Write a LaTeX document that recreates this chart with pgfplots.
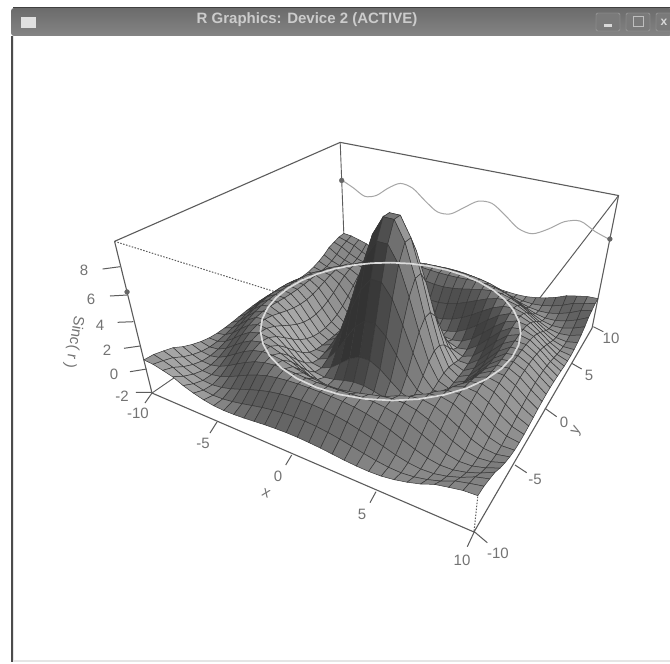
\documentclass[border=0pt]{standalone}
\usepackage{pgfplots}
\usepackage{pgfplotstable}
\usepackage{fontspec}
\setmainfont{Liberation Sans}
\pgfplotsset{compat=1.18}
\definecolor{boxc}{gray}{0.36}
\definecolor{labc}{gray}{0.45}

% surface heights, one grid row per line: y=10 down to y=-10, x=-10 to 10
\pgfplotstableread[row sep=\\]{
z\\
0.71\\0.65\\0.45\\0.23\\-0.18\\-0.48\\-0.71\\-0.86\\-0.91\\-0.89\\-0.83\\-0.74\\-0.65\\-0.59\\-0.55\\-0.55\\-0.59\\-0.65\\-0.74\\-0.83\\-0.89\\-0.91\\-0.86\\-0.71\\-0.48\\-0.18\\0.23\\0.45\\0.65\\0.71\\
0.65\\0.43\\0.17\\-0.27\\-0.59\\-0.81\\-0.91\\-0.88\\-0.76\\-0.59\\-0.39\\-0.20\\-0.05\\0.06\\0.12\\0.12\\0.06\\-0.05\\-0.20\\-0.39\\-0.59\\-0.76\\-0.88\\-0.91\\-0.81\\-0.59\\-0.27\\0.17\\0.43\\0.65\\
0.45\\0.17\\-0.30\\-0.64\\-0.86\\-0.91\\-0.81\\-0.59\\-0.30\\0.01\\0.28\\0.51\\0.67\\0.78\\0.83\\0.83\\0.78\\0.67\\0.51\\0.28\\0.01\\-0.30\\-0.59\\-0.81\\-0.91\\-0.86\\-0.64\\-0.30\\0.17\\0.45\\
0.23\\-0.27\\-0.64\\-0.87\\-0.90\\-0.74\\-0.43\\-0.05\\0.34\\0.67\\0.93\\1.09\\1.19\\1.24\\1.26\\1.26\\1.24\\1.19\\1.09\\0.93\\0.67\\0.34\\-0.05\\-0.43\\-0.74\\-0.90\\-0.87\\-0.64\\-0.27\\0.23\\
-0.18\\-0.59\\-0.86\\-0.90\\-0.71\\-0.34\\0.12\\0.56\\0.93\\1.16\\1.27\\1.28\\1.23\\1.17\\1.14\\1.14\\1.17\\1.23\\1.28\\1.27\\1.16\\0.93\\0.56\\0.12\\-0.34\\-0.71\\-0.90\\-0.86\\-0.59\\-0.18\\
-0.48\\-0.81\\-0.91\\-0.74\\-0.34\\0.17\\0.67\\1.06\\1.26\\1.27\\1.14\\0.92\\0.70\\0.52\\0.42\\0.42\\0.52\\0.70\\0.92\\1.14\\1.27\\1.26\\1.06\\0.67\\0.17\\-0.34\\-0.74\\-0.91\\-0.81\\-0.48\\
-0.71\\-0.91\\-0.81\\-0.43\\0.12\\0.67\\1.09\\1.28\\1.21\\0.92\\0.52\\0.09\\-0.28\\-0.55\\-0.68\\-0.68\\-0.55\\-0.28\\0.09\\0.52\\0.92\\1.21\\1.28\\1.09\\0.67\\0.12\\-0.43\\-0.81\\-0.91\\-0.71\\
-0.86\\-0.88\\-0.59\\-0.05\\0.56\\1.06\\1.28\\1.17\\0.78\\0.20\\-0.41\\-0.95\\-1.35\\-1.60\\-1.72\\-1.72\\-1.60\\-1.35\\-0.95\\-0.41\\0.20\\0.78\\1.17\\1.28\\1.06\\0.56\\-0.05\\-0.59\\-0.88\\-0.86\\
-0.91\\-0.76\\-0.30\\0.34\\0.93\\1.26\\1.21\\0.78\\0.09\\-0.68\\-1.35\\-1.83\\-2.07\\-2.16\\-2.17\\-2.17\\-2.16\\-2.07\\-1.83\\-1.35\\-0.68\\0.09\\0.78\\1.21\\1.26\\0.93\\0.34\\-0.30\\-0.76\\-0.91\\
-0.89\\-0.59\\0.01\\0.67\\1.16\\1.27\\0.92\\0.20\\-0.68\\-1.48\\-2.01\\-2.17\\-2.05\\-1.81\\-1.63\\-1.63\\-1.81\\-2.05\\-2.17\\-2.01\\-1.48\\-0.68\\0.20\\0.92\\1.27\\1.16\\0.67\\0.01\\-0.59\\-0.89\\
-0.83\\-0.39\\0.28\\0.93\\1.27\\1.14\\0.52\\-0.41\\-1.35\\-2.01\\-2.16\\-1.81\\-1.12\\-0.40\\0.06\\0.06\\-0.40\\-1.12\\-1.81\\-2.16\\-2.01\\-1.35\\-0.41\\0.52\\1.14\\1.27\\0.93\\0.28\\-0.39\\-0.83\\
-0.74\\-0.20\\0.51\\1.09\\1.28\\0.92\\0.09\\-0.95\\-1.83\\-2.17\\-1.81\\-0.79\\0.59\\1.88\\2.65\\2.65\\1.88\\0.59\\-0.79\\-1.81\\-2.17\\-1.83\\-0.95\\0.09\\0.92\\1.28\\1.09\\0.51\\-0.20\\-0.74\\
-0.65\\-0.05\\0.67\\1.19\\1.23\\0.70\\-0.28\\-1.35\\-2.07\\-2.05\\-1.12\\0.59\\2.65\\4.50\\5.59\\5.59\\4.50\\2.65\\0.59\\-1.12\\-2.05\\-2.07\\-1.35\\-0.28\\0.70\\1.23\\1.19\\0.67\\-0.05\\-0.65\\
-0.59\\0.06\\0.78\\1.24\\1.17\\0.52\\-0.55\\-1.60\\-2.16\\-1.81\\-0.40\\1.88\\4.50\\6.80\\8.13\\8.13\\6.80\\4.50\\1.88\\-0.40\\-1.81\\-2.16\\-1.60\\-0.55\\0.52\\1.17\\1.24\\0.78\\0.06\\-0.59\\
-0.55\\0.12\\0.83\\1.26\\1.14\\0.42\\-0.68\\-1.72\\-2.17\\-1.63\\0.06\\2.65\\5.59\\8.13\\9.61\\9.61\\8.13\\5.59\\2.65\\0.06\\-1.63\\-2.17\\-1.72\\-0.68\\0.42\\1.14\\1.26\\0.83\\0.12\\-0.55\\
-0.55\\0.12\\0.83\\1.26\\1.14\\0.42\\-0.68\\-1.72\\-2.17\\-1.63\\0.06\\2.65\\5.59\\8.13\\9.61\\9.61\\8.13\\5.59\\2.65\\0.06\\-1.63\\-2.17\\-1.72\\-0.68\\0.42\\1.14\\1.26\\0.83\\0.12\\-0.55\\
-0.59\\0.06\\0.78\\1.24\\1.17\\0.52\\-0.55\\-1.60\\-2.16\\-1.81\\-0.40\\1.88\\4.50\\6.80\\8.13\\8.13\\6.80\\4.50\\1.88\\-0.40\\-1.81\\-2.16\\-1.60\\-0.55\\0.52\\1.17\\1.24\\0.78\\0.06\\-0.59\\
-0.65\\-0.05\\0.67\\1.19\\1.23\\0.70\\-0.28\\-1.35\\-2.07\\-2.05\\-1.12\\0.59\\2.65\\4.50\\5.59\\5.59\\4.50\\2.65\\0.59\\-1.12\\-2.05\\-2.07\\-1.35\\-0.28\\0.70\\1.23\\1.19\\0.67\\-0.05\\-0.65\\
-0.74\\-0.20\\0.51\\1.09\\1.28\\0.92\\0.09\\-0.95\\-1.83\\-2.17\\-1.81\\-0.79\\0.59\\1.88\\2.65\\2.65\\1.88\\0.59\\-0.79\\-1.81\\-2.17\\-1.83\\-0.95\\0.09\\0.92\\1.28\\1.09\\0.51\\-0.20\\-0.74\\
-0.83\\-0.39\\0.28\\0.93\\1.27\\1.14\\0.52\\-0.41\\-1.35\\-2.01\\-2.16\\-1.81\\-1.12\\-0.40\\0.06\\0.06\\-0.40\\-1.12\\-1.81\\-2.16\\-2.01\\-1.35\\-0.41\\0.52\\1.14\\1.27\\0.93\\0.28\\-0.39\\-0.83\\
-0.89\\-0.59\\0.01\\0.67\\1.16\\1.27\\0.92\\0.20\\-0.68\\-1.48\\-2.01\\-2.17\\-2.05\\-1.81\\-1.63\\-1.63\\-1.81\\-2.05\\-2.17\\-2.01\\-1.48\\-0.68\\0.20\\0.92\\1.27\\1.16\\0.67\\0.01\\-0.59\\-0.89\\
-0.91\\-0.76\\-0.30\\0.34\\0.93\\1.26\\1.21\\0.78\\0.09\\-0.68\\-1.35\\-1.83\\-2.07\\-2.16\\-2.17\\-2.17\\-2.16\\-2.07\\-1.83\\-1.35\\-0.68\\0.09\\0.78\\1.21\\1.26\\0.93\\0.34\\-0.30\\-0.76\\-0.91\\
-0.86\\-0.88\\-0.59\\-0.05\\0.56\\1.06\\1.28\\1.17\\0.78\\0.20\\-0.41\\-0.95\\-1.35\\-1.60\\-1.72\\-1.72\\-1.60\\-1.35\\-0.95\\-0.41\\0.20\\0.78\\1.17\\1.28\\1.06\\0.56\\-0.05\\-0.59\\-0.88\\-0.86\\
-0.71\\-0.91\\-0.81\\-0.43\\0.12\\0.67\\1.09\\1.28\\1.21\\0.92\\0.52\\0.09\\-0.28\\-0.55\\-0.68\\-0.68\\-0.55\\-0.28\\0.09\\0.52\\0.92\\1.21\\1.28\\1.09\\0.67\\0.12\\-0.43\\-0.81\\-0.91\\-0.71\\
-0.48\\-0.81\\-0.91\\-0.74\\-0.34\\0.17\\0.67\\1.06\\1.26\\1.27\\1.14\\0.92\\0.70\\0.52\\0.42\\0.42\\0.52\\0.70\\0.92\\1.14\\1.27\\1.26\\1.06\\0.67\\0.17\\-0.34\\-0.74\\-0.91\\-0.81\\-0.48\\
-0.18\\-0.59\\-0.86\\-0.90\\-0.71\\-0.34\\0.12\\0.56\\0.93\\1.16\\1.27\\1.28\\1.23\\1.17\\1.14\\1.14\\1.17\\1.23\\1.28\\1.27\\1.16\\0.93\\0.56\\0.12\\-0.34\\-0.71\\-0.90\\-0.86\\-0.59\\-0.18\\
0.23\\-0.27\\-0.64\\-0.87\\-0.90\\-0.74\\-0.43\\-0.05\\0.34\\0.67\\0.93\\1.09\\1.19\\1.24\\1.26\\1.26\\1.24\\1.19\\1.09\\0.93\\0.67\\0.34\\-0.05\\-0.43\\-0.74\\-0.90\\-0.87\\-0.64\\-0.27\\0.23\\
0.45\\0.17\\-0.30\\-0.64\\-0.86\\-0.91\\-0.81\\-0.59\\-0.30\\0.01\\0.28\\0.51\\0.67\\0.78\\0.83\\0.83\\0.78\\0.67\\0.51\\0.28\\0.01\\-0.30\\-0.59\\-0.81\\-0.91\\-0.86\\-0.64\\-0.30\\0.17\\0.45\\
0.65\\0.43\\0.17\\-0.27\\-0.59\\-0.81\\-0.91\\-0.88\\-0.76\\-0.59\\-0.39\\-0.20\\-0.05\\0.06\\0.12\\0.12\\0.06\\-0.05\\-0.20\\-0.39\\-0.59\\-0.76\\-0.88\\-0.91\\-0.81\\-0.59\\-0.27\\0.17\\0.43\\0.65\\
0.71\\0.65\\0.45\\0.23\\-0.18\\-0.48\\-0.71\\-0.86\\-0.91\\-0.89\\-0.83\\-0.74\\-0.65\\-0.59\\-0.55\\-0.55\\-0.59\\-0.65\\-0.74\\-0.83\\-0.89\\-0.91\\-0.86\\-0.71\\-0.48\\-0.18\\0.23\\0.45\\0.65\\0.71\\
}\sincz

% ring on the surface, second maximum
\pgfplotstableread{
x y z
7.725 0 1.28
7.608 1.341 1.28
7.259 2.642 1.28
6.690 3.863 1.28
5.918 4.966 1.28
4.966 5.918 1.28
3.863 6.690 1.28
2.642 7.259 1.28
1.341 7.608 1.28
0 7.725 1.28
-1.341 7.608 1.28
-2.642 7.259 1.28
-3.863 6.690 1.28
-4.966 5.918 1.28
-5.918 4.966 1.28
-6.690 3.863 1.28
-7.259 2.642 1.28
-7.608 1.341 1.28
-7.725 0 1.28
-7.608 -1.341 1.28
-7.259 -2.642 1.28
-6.690 -3.863 1.28
-5.918 -4.966 1.28
-4.966 -5.918 1.28
-3.863 -6.690 1.28
-2.642 -7.259 1.28
-1.341 -7.608 1.28
0 -7.725 1.28
1.341 -7.608 1.28
2.642 -7.259 1.28
3.863 -6.690 1.28
4.966 -5.918 1.28
5.918 -4.966 1.28
6.690 -3.863 1.28
7.259 -2.642 1.28
7.608 -1.341 1.28
7.725 0 1.28
}\ring

% wavy line on the back wall
\pgfplotstableread{
x y z
-10 10 6.10
-9 10 5.59
-8 10 5.01
-7 10 5.34
-6 10 6.28
-5 10 6.96
-4 10 6.76
-3 10 5.86
-2 10 5.09
-1 10 5.16
0 10 6.00
1 10 6.84
2 10 6.91
3 10 6.14
4 10 5.24
5 10 5.04
6 10 5.72
7 10 6.66
8 10 6.99
9 10 6.41
10 10 6.00
}\wall

\pgfplotsset{/pgfplots/table/proj/.style={
  x expr={prx(\thisrow{x},\thisrow{y},\thisrow{z})},
  y expr={pry(\thisrow{x},\thisrow{y},\thisrow{z})},
  z expr=0}}

\begin{document}
\begin{tikzpicture}[font=\fontsize{15}{17}\selectfont]
\path[use as bounding box] (0,0) rectangle (670pt,664pt);
\fill[white] (0,0) rectangle (670pt,664pt);
\begin{scope}[x=1pt,y=-1pt,shift={(0pt,664pt)}]
  % window frame
  \fill[gray!20] (11,36) rectangle (670,662);
  \fill[white] (14,36) rectangle (670,660);
  \fill[black!70] (11,36) rectangle (12.5,662);
  \shade[top color=black!58,bottom color=black!48,rounded corners=3pt] (11,8) rectangle (672,36);
  \draw[black!75,line width=1pt] (13,8) -- (670,8);
  \fill[black!12] (21,17) rectangle (36,28);
  \node[text=black!20,font=\fontsize{15}{17}\selectfont\bfseries] at (307,20) {R Graphics: Device 2 (ACTIVE)};
  \foreach \xa/\xb in {596/620,626/650,656/672}
    \draw[black!35,fill=black!52,rounded corners=1.5pt] (\xa,13) rectangle (\xb,31);
  \fill[black!15] (604,24) rectangle (612,27);
  \draw[black!25,line width=1pt] (633,17) rectangle (643,27);
  \node[text=black!15,font=\fontsize{12}{12}\selectfont\bfseries] at (664,22) {x};
\end{scope}

\begin{axis}[
  hide axis, scale only axis, width=670pt, height=664pt,
  xmin=0, xmax=670, ymin=0, ymax=664, zmin=-1, zmax=1,
  y dir=reverse, view={0}{90}, clip=false,
  unbounded coords=jump,
  declare function={
    aa(\x)=(10-\x)/20;
    bb(\y)=(\y+10)/20;
    cc(\z)=(\z+2.17)/11.77;
    pw(\x,\y,\z)=1+0.2704*aa(\x)+0.5135*bb(\y)-0.174*cc(\z);
    prx(\x,\y,\z)=(474-280.9*aa(\x)+422.1*bb(\y)-67.5*cc(\z))/pw(\x,\y,\z);
    pry(\x,\y,\z)=(532-32.7*aa(\x)-35.4*bb(\y)-234.7*cc(\z))/pw(\x,\y,\z);
    rowof(\i)=floor((\i+0.5)/30);
    gx(\i)=-10+20/29*(\i-30*rowof(\i));
    gy(\i)=10-20/29*rowof(\i);
    rr(\x,\y)=sqrt(\x*\x+\y*\y);
    sl(\r)=10*(cos(deg(\r))/\r-sin(deg(\r))/(\r*\r));
    lit(\x,\y,\r)=(0.62-0.7*sl(\r)/\r*(0.6*\x+0.5*\y))/sqrt(1+0.49*sl(\r)*sl(\r));
  },
  colormap={greys}{gray(0cm)=(0.2); gray(1cm)=(0.68)},
  point meta min=-0.3, point meta max=1,
]
% box edges behind the surface
\addplot3[no marks,boxc,line width=0.9pt,forget plot] table[proj] {
x y z
-10 -10 -2.17
-10 10 -2.17
-10 10 9.6
};
\addplot3[no marks,boxc,line width=1pt,dash pattern=on 1.5pt off 1.5pt,forget plot] table[proj] {
x y z
-10 -10 9.6
10 -10 9.6
10 10 9.6
10 -10 9.6
10 -10 -2.17
};
\addplot3[no marks,boxc,line width=1.1pt,forget plot] table[proj] {
x y z
-10 -10 9.6
-10 10 9.6
10 10 9.6
10 10 -2.17
10 -10 -2.17
-10 -10 -2.17
-10 -10 9.6
};
% tick marks, picture coordinates
\addplot3[no marks,boxc,line width=1pt,forget plot] coordinates {
(151.7,392.3,0)(136,392.3,0)(nan,nan,0)
(146.7,369,0)(130,371.7,0)(nan,nan,0)
(140,346,0)(124,348.3,0)(nan,nan,0)
(133.3,321.7,0)(117.7,322.3,0)(nan,nan,0)
(127.3,295,0)(110,296,0)(nan,nan,0)
(120,266.7,0)(102.7,269,0)(nan,nan,0)
(152,393,0)(145,403,0)(nan,nan,0)
(217,422,0)(210,433,0)(nan,nan,0)
(291.7,455,0)(285.7,465,0)(nan,nan,0)
(376,491.7,0)(370,502.7,0)(nan,nan,0)
(474.3,531.7,0)(467.3,546.7,0)(nan,nan,0)
(474.3,531.7,0)(487.3,542.7,0)(nan,nan,0)
(515,465,0)(526.7,472.7,0)(nan,nan,0)
(545,408.3,0)(556.7,416.7,0)(nan,nan,0)
(571.7,363.3,0)(581.7,369,0)(nan,nan,0)
(593.3,326.7,0)(603.3,331.7,0)
};
% back wall curve and its end marks
\addplot3[no marks,smooth,black!35,line width=1pt,forget plot] table[proj] {\wall};
\addplot3[only marks,mark=*,mark size=2.4pt,black!60,forget plot] table[proj] {
x y z
-10 10 6.05
10 10 6.05
-10 -10 6.05
};
% the surface
\addplot3[surf,shader=faceted,faceted color=black!78,line width=0.5pt,
  mesh/rows=30,mesh/cols=30,z buffer=none,forget plot,
  point meta={lit(gx(\coordindex),gy(\coordindex),rr(gx(\coordindex),gy(\coordindex)))}]
  table[x index=0,y index=0,z index=0,
        x expr={prx(gx(\coordindex),gy(\coordindex),\thisrow{z})},
        y expr={pry(gx(\coordindex),gy(\coordindex),\thisrow{z})},
        z expr=0] {\sincz};
% ring
\addplot3[no marks,black!14,line width=1.7pt,forget plot] table[proj] {\ring};
\end{axis}

\begin{scope}[x=1pt,y=-1pt,shift={(0pt,664pt)},every node/.style={text=labc,inner sep=0pt}]
  \node at (84,270) {8};
  \node at (91,299) {6};
  \node at (100,325) {4};
  \node at (107,350) {2};
  \node at (114,374) {0};
  \node at (122,396) {-2};
  \node at (138,413) {-10};
  \node at (203,443) {-5};
  \node at (278,476) {0};
  \node at (362,514) {5};
  \node at (462,560) {10};
  \node at (498,553) {-10};
  \node at (535,479) {-5};
  \node at (564,422) {0};
  \node at (589,375) {5};
  \node at (611,338) {10};
  \node[rotate=-23] at (266,493) {x};
  \node[rotate=60] at (577,431) {y};
  \node[rotate=-100] at (74,342) {Sinc( r )};
\end{scope}
\end{tikzpicture}
\end{document}
